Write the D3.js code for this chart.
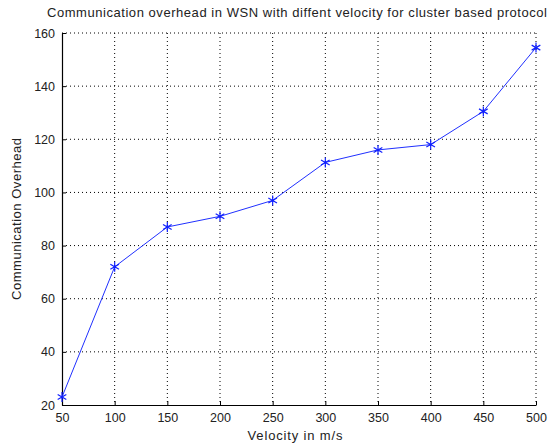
<!DOCTYPE html>
<html>
<head>
<meta charset="utf-8">
<script src="https://cdn.jsdelivr.net/npm/d3@7"></script>
<style>
  body { margin: 0; background: #fff; }
  text { font-family: "Liberation Sans", Arial, sans-serif; fill: #222; }
</style>
</head>
<body>
<svg width="550" height="443"></svg>
<script>
  const velocity = [50, 100, 150, 200, 250, 300, 350, 400, 450, 500];
  const overhead = [23, 72, 87, 91, 97, 111.3, 116, 118, 130.5, 154.5];
  const xTicks = [50, 100, 150, 200, 250, 300, 350, 400, 450, 500];
  const yTicks = [20, 40, 60, 80, 100, 120, 140, 160];

  const svg = d3.select('svg');
  const margin = { left: 62, right: 14, top: 33, bottom: 38 };
  const width = 550 - margin.left - margin.right;
  const height = 443 - margin.top - margin.bottom;

  const x = d3.scaleLinear().domain([50, 500]).range([0, width]);
  const y = d3.scaleLinear().domain([20, 160]).range([height, 0]);

  const g = svg.append('g')
    .attr('transform', `translate(${margin.left},${margin.top})`);

  // dotted grid
  g.append('g').selectAll('line')
    .data(xTicks.slice(1))
    .join('line')
      .attr('x1', d => x(d)).attr('x2', d => x(d))
      .attr('y1', 0).attr('y2', height)
      .attr('stroke', '#000').attr('stroke-width', 1)
      .attr('stroke-dasharray', '1,3');
  g.append('g').selectAll('line')
    .data(yTicks.slice(1))
    .join('line')
      .attr('y1', d => y(d)).attr('y2', d => y(d))
      .attr('x1', 0).attr('x2', width)
      .attr('stroke', '#000').attr('stroke-width', 1)
      .attr('stroke-dasharray', '1,3');

  const xAxis = g.append('g')
    .attr('transform', `translate(0,${height})`)
    .call(d3.axisBottom(x).tickValues(xTicks).tickSize(-4).tickPadding(8).tickSizeOuter(0));
  const yAxis = g.append('g')
    .call(d3.axisLeft(y).tickValues(yTicks).tickSize(-4).tickPadding(7).tickSizeOuter(0));

  [xAxis, yAxis].forEach(a => {
    a.select('.domain').attr('stroke', '#000').attr('stroke-width', 1.2);
    a.selectAll('.tick line').attr('stroke', '#000');
    a.selectAll('.tick text').attr('font-size', 12.5).attr('fill', '#222')
      .attr('font-family', '"Liberation Sans", Arial, sans-serif');
  });

  const line = d3.line()
    .x((d, i) => x(velocity[i]))
    .y(d => y(d));

  g.append('path')
    .datum(overhead)
    .attr('fill', 'none')
    .attr('stroke', '#2030ff')
    .attr('stroke-width', 1)
    .attr('d', line);

  // asterisk markers
  const star = d3.symbol().type(d3.symbolAsterisk).size(70);
  g.append('g').selectAll('path')
    .data(overhead)
    .join('path')
      .attr('transform', (d, i) => `translate(${x(velocity[i])},${y(d)})`)
      .attr('d', star)
      .attr('fill', 'none')
      .attr('stroke', '#1020ff')
      .attr('stroke-width', 1.2);

  svg.append('text')
    .attr('x', 297).attr('y', 17)
    .attr('text-anchor', 'middle')
    .attr('font-size', 13)
    .attr('textLength', 500)
    .attr('lengthAdjust', 'spacing')
    .text('Communication overhead in WSN with diffent velocity for cluster based protocol');

  svg.append('text')
    .attr('x', 295).attr('y', 440)
    .attr('text-anchor', 'middle')
    .attr('font-size', 13)
    .attr('textLength', 95)
    .attr('lengthAdjust', 'spacing')
    .text('Velocity in m/s');

  svg.append('text')
    .attr('transform', 'translate(21,219) rotate(-90)')
    .attr('text-anchor', 'middle')
    .attr('font-size', 13)
    .attr('textLength', 162)
    .attr('lengthAdjust', 'spacing')
    .text('Communication Overhead');
</script>
</body>
</html>
